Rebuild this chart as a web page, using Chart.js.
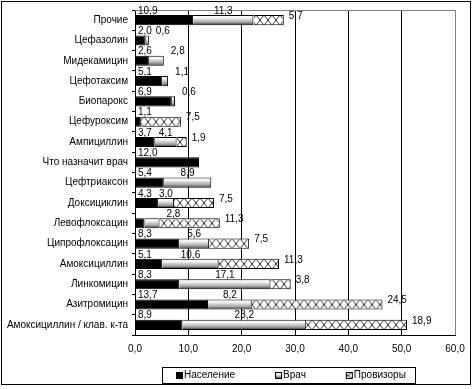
<!DOCTYPE html>
<html>
<head>
<meta charset="utf-8">
<script src="https://cdn.jsdelivr.net/npm/chart.js@4.4.1/dist/chart.umd.min.js"></script>
<style>
    html, body { margin: 0; padding: 0; background: #fff; }
    canvas { display: block; }
</style>
</head>
<body>
<canvas id="chart" width="474" height="389"></canvas>
<script>
// Data
const categories = [
    'Прочие', 'Цефазолин', 'Мидекамицин', 'Цефотаксим', 'Биопарокс', 'Цефуроксим',
    'Ампициллин', 'Что назначит врач', 'Цефтриаксон', 'Доксициклин', 'Левофлоксацин',
    'Ципрофлоксацин', 'Амоксициллин', 'Линкомицин', 'Азитромицин', 'Амоксициллин / клав. к-та'
];
const population  = [10.9, 2.0, 2.6, 5.1, 6.9, 1.1, 3.7, 12.0, 5.4, 4.3, 1.8, 8.3, 5.1, 8.3, 13.7, 8.9];
const doctor      = [11.3, 0.6, 2.8, 1.1, 0.6, 0, 4.1, 0, 8.9, 3.0, 2.8, 5.6, 10.6, 17.1, 8.2, 23.2];
const pharmacists = [5.7, 0, 0, 0, 0, 7.5, 1.9, 0, 0, 7.5, 11.3, 7.5, 11.3, 3.8, 24.5, 18.9];
const seriesNames = ['Население', 'Врач', 'Провизоры'];
const xMin = 0, xMax = 60, xStep = 10;
// population value that has no label on the original
const unlabeled = ['Левофлоксацин'];

const FONT = '"Liberation Sans", Arial, sans-serif';
const fmt = v => v.toFixed(1).replace('.', ',');

function doctorFill(ctx, y0, h) {
    const g = ctx.createLinearGradient(0, y0, 0, y0 + h);
    g.addColorStop(0, '#ffffff');
    g.addColorStop(0.3, '#f2f2f2');
    g.addColorStop(0.5, '#c8c8c8');
    g.addColorStop(0.7, '#a8a8a8');
    g.addColorStop(0.88, '#5a5a5a');
    g.addColorStop(1, '#303030');
    return g;
}

function hatchFill(ctx, y0, h) {
    const tile = document.createElement('canvas');
    tile.width = 8;
    tile.height = h;
    const t = tile.getContext('2d');
    t.fillStyle = '#fff';
    t.fillRect(0, 0, 8, h);
    t.strokeStyle = '#000';
    t.lineWidth = 0.8;
    t.beginPath();
    t.moveTo(0, 0); t.lineTo(8, h);
    t.moveTo(8, 0); t.lineTo(0, h);
    t.stroke();
    const p = ctx.createPattern(tile, 'repeat');
    p.setTransform(new DOMMatrix().translate(0, y0));
    return p;
}

function barBox(c) {
    const chart = c.chart;
    const y = chart.scales.y;
    const step = Math.abs(y.getPixelForValue(1) - y.getPixelForValue(0));
    const h = step * 0.5;
    return { y0: y.getPixelForValue(c.dataIndex) - h / 2, h };
}

const frame = {
    id: 'frame',
    beforeDraw(chart) {
        const { ctx } = chart;
        ctx.save();
        ctx.fillStyle = '#fff';
        ctx.fillRect(0, 0, chart.width, chart.height);
        ctx.strokeStyle = '#000';
        ctx.lineWidth = 1;
        ctx.strokeRect(1.5, 1.5, 469, 383);
        ctx.restore();
    },
    beforeDatasetsDraw(chart) {
        const { ctx, chartArea } = chart;
        ctx.save();
        ctx.strokeStyle = '#808080';
        ctx.lineWidth = 1;
        ctx.beginPath();
        ctx.moveTo(chartArea.left, chartArea.top + 0.5);
        ctx.lineTo(chartArea.right, chartArea.top + 0.5);
        ctx.stroke();
        ctx.restore();
    }
};

const barLabels = {
    id: 'barLabels',
    afterDatasetsDraw(chart) {
        const { ctx, chartArea, scales: { x, y } } = chart;
        const step = y.getPixelForValue(1) - y.getPixelForValue(0);
        ctx.save();
        ctx.font = '10px ' + FONT;
        ctx.fillStyle = '#000';
        ctx.textBaseline = 'middle';
        categories.forEach((cat, i) => {
            const yc = y.getPixelForValue(i);
            const top = yc - step / 2 + 1;
            const p = population[i], d = doctor[i], f = pharmacists[i];
            if (p > 0 && !unlabeled.includes(cat)) {
                ctx.textAlign = 'left';
                ctx.fillText(fmt(p), chartArea.left + 3, top);
            }
            if (d > 0) {
                const xs = x.getPixelForValue(p), xe = x.getPixelForValue(p + d);
                if (xe - xs >= 15.5) {
                    ctx.textAlign = 'center';
                    ctx.fillText(fmt(d), (xs + xe) / 2, top);
                } else {
                    ctx.textAlign = 'left';
                    ctx.fillText(fmt(d), xe + 7, top);
                }
            }
            if (f > 0) {
                ctx.textAlign = 'left';
                ctx.fillText(fmt(f), x.getPixelForValue(p + d + f) + 5, yc - 4);
            }
        });
        ctx.restore();
    }
};

const boxLegend = {
    id: 'boxLegend',
    afterDraw(chart) {
        const { ctx } = chart;
        const top = 367, bottom = 383, left = 162, right = 415;
        const cy = (top + bottom) / 2;
        ctx.save();
        ctx.strokeStyle = '#000';
        ctx.lineWidth = 1;
        ctx.strokeRect(left + 0.5, top + 0.5, right - left, bottom - top);
        ctx.font = '10px ' + FONT;
        ctx.textBaseline = 'middle';
        ctx.textAlign = 'left';
        let xPos = 176;
        seriesNames.forEach((name, i) => {
            const s = 6, sy = Math.round(cy - s / 2) + 0.5;
            ctx.fillStyle = i === 0 ? '#000' : i === 1 ? doctorFill(ctx, sy, s) : hatchFill(ctx, sy, s);
            ctx.fillRect(xPos + 0.5, sy, s, s);
            ctx.strokeStyle = '#000';
            ctx.strokeRect(xPos + 0.5, sy, s, s);
            ctx.fillStyle = '#000';
            ctx.fillText(name, xPos + s + 2, cy);
            xPos += s + 2 + ctx.measureText(name).width + 40;
        });
        ctx.restore();
    }
};

new Chart(document.getElementById('chart'), {
    type: 'bar',
    data: {
        labels: categories,
        datasets: [
            {
                label: seriesNames[0],
                data: population,
                backgroundColor: '#000',
                borderColor: '#000',
                borderWidth: 1
            },
            {
                label: seriesNames[1],
                data: doctor,
                backgroundColor: c => {
                    if (!c.chart.chartArea || c.type !== 'data') return '#c0c0c0';
                    const b = barBox(c);
                    return doctorFill(c.chart.ctx, b.y0, b.h);
                },
                borderColor: '#000',
                borderWidth: 1
            },
            {
                label: seriesNames[2],
                data: pharmacists,
                backgroundColor: c => {
                    if (!c.chart.chartArea || c.type !== 'data') return '#fff';
                    const b = barBox(c);
                    return hatchFill(c.chart.ctx, b.y0, b.h);
                },
                borderColor: '#000',
                borderWidth: 1
            }
        ]
    },
    options: {
        indexAxis: 'y',
        responsive: false,
        animation: false,
        devicePixelRatio: 1,
        categoryPercentage: 1,
        barPercentage: 0.5,
        layout: { padding: { top: 7, right: 19, bottom: 0, left: 0 } },
        plugins: {
            legend: { display: false },
            tooltip: { enabled: false }
        },
        scales: {
            x: {
                stacked: true,
                min: xMin,
                max: xMax,
                ticks: {
                    stepSize: xStep,
                    padding: 8,
                    color: '#000',
                    font: { family: FONT, size: 10 },
                    callback: v => fmt(v)
                },
                grid: {
                    drawTicks: false,
                    color: c => (c.tick && c.tick.value === xMax) ? '#808080' : '#000'
                },
                border: { color: '#000' },
                afterFit: s => { s.height = 54; }
            },
            y: {
                stacked: true,
                ticks: {
                    padding: 4,
                    color: '#000',
                    font: { family: FONT, size: 10 }
                },
                grid: {
                    offset: true,
                    drawOnChartArea: false,
                    tickLength: 3,
                    color: '#000'
                },
                border: { color: '#000' },
                afterFit: s => { s.width = 135; }
            }
        }
    },
    plugins: [frame, barLabels, boxLegend]
});
</script>
</body>
</html>
